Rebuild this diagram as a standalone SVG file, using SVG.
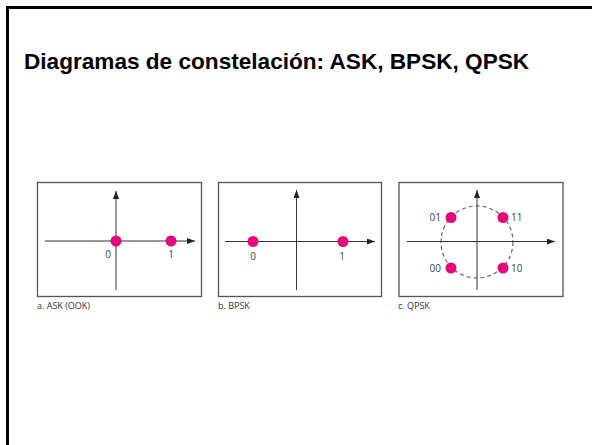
<svg xmlns="http://www.w3.org/2000/svg" width="592" height="445" viewBox="0 0 592 445">
  <style>
    .frame { fill: none; stroke: #000; stroke-width: 3; }
    .title { font-family: "Liberation Sans", Arial, sans-serif; font-weight: bold; font-size: 22.6px; fill: #000; }
    .panel { fill: #fff; stroke: #555; stroke-width: 1.3; }
    .axis { stroke: #333; stroke-width: 1; fill: none; }
    .dot { fill: #e4087c; }
    .ring { fill: none; stroke: #666; stroke-width: 1.2; stroke-dasharray: 4 3; }
    .lbl { font-family: "Open Sans", "Liberation Sans", sans-serif; font-size: 10px; fill: #444; }
    .cap { font-family: "Open Sans", "Liberation Sans", sans-serif; font-size: 9px; fill: #333; }
  </style>
  <defs>
    <marker id="arr" markerUnits="userSpaceOnUse" markerWidth="9" markerHeight="7" refX="8" refY="3" orient="auto">
      <path d="M0,0 L8,3 L0,6 z" fill="#222"/>
    </marker>
  </defs>
  <rect width="592" height="445" fill="#fff"/>
  <rect class="frame" x="7.5" y="7.5" width="600" height="460"/>
  <text class="title" x="24" y="69">Diagramas de constelación: ASK, BPSK, QPSK</text>

  <g id="panel-ask">
    <rect class="panel" x="37.5" y="182.5" width="164" height="114"/>
    <line class="axis" x1="45" y1="241" x2="195" y2="241" marker-end="url(#arr)"/>
    <line class="axis" x1="116" y1="290" x2="116" y2="191" marker-end="url(#arr)"/>
    <circle class="dot" cx="116" cy="241" r="5.5"/>
    <circle class="dot" cx="171" cy="241" r="5.5"/>
    <text class="lbl" x="108" y="258" text-anchor="middle">0</text>
    <text class="lbl" x="171" y="258" text-anchor="middle">1</text>
    <text class="cap" x="37" y="309">a. ASK (OOK)</text>
  </g>

  <g id="panel-bpsk">
    <rect class="panel" x="218.5" y="182.5" width="163" height="114"/>
    <line class="axis" x1="225" y1="241.5" x2="375" y2="241.5" marker-end="url(#arr)"/>
    <line class="axis" x1="296.5" y1="290" x2="296.5" y2="190" marker-end="url(#arr)"/>
    <circle class="dot" cx="253" cy="241.5" r="5.5"/>
    <circle class="dot" cx="343" cy="241.5" r="5.5"/>
    <text class="lbl" x="253" y="260" text-anchor="middle">0</text>
    <text class="lbl" x="342" y="260" text-anchor="middle">1</text>
    <text class="cap" x="218" y="309">b. BPSK</text>
  </g>

  <g id="panel-qpsk">
    <rect class="panel" x="399" y="182.5" width="164" height="114"/>
    <circle class="ring" cx="477" cy="242" r="36"/>
    <line class="axis" x1="407" y1="241.5" x2="555" y2="241.5" marker-end="url(#arr)"/>
    <line class="axis" x1="477" y1="290" x2="477" y2="190" marker-end="url(#arr)"/>
    <circle class="dot" cx="451" cy="217.5" r="5.5"/>
    <circle class="dot" cx="503" cy="217.5" r="5.5"/>
    <circle class="dot" cx="451" cy="268" r="5.5"/>
    <circle class="dot" cx="503" cy="268" r="5.5"/>
    <text class="lbl" x="441" y="221" text-anchor="end">01</text>
    <text class="lbl" x="511" y="221">11</text>
    <text class="lbl" x="441" y="272" text-anchor="end">00</text>
    <text class="lbl" x="511" y="272">10</text>
    <text class="cap" x="398" y="309">c. QPSK</text>
  </g>
</svg>
